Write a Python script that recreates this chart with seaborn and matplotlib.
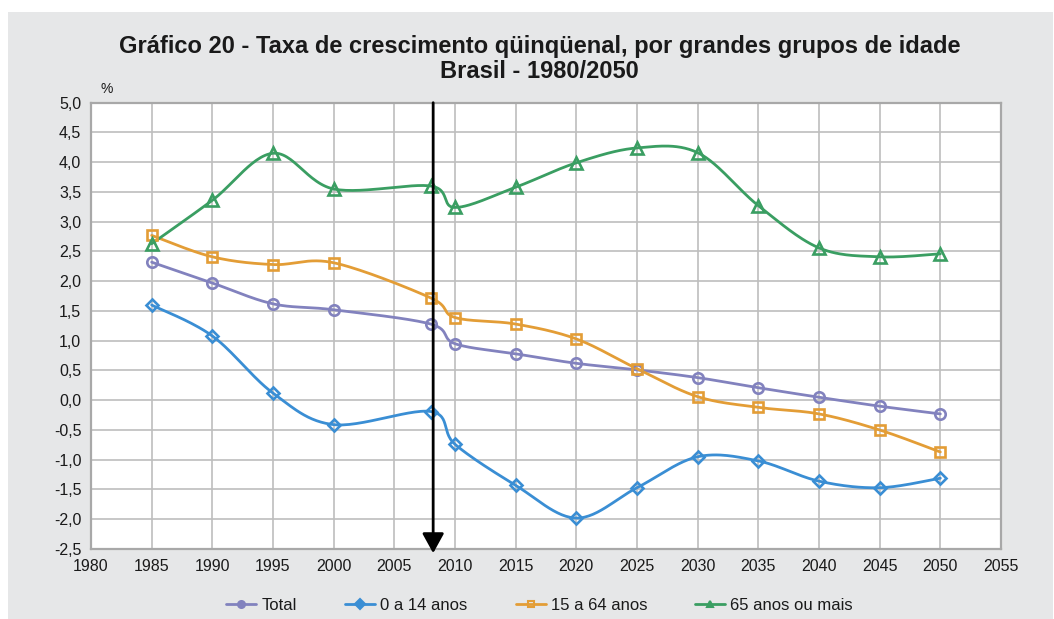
import numpy as np
import matplotlib
matplotlib.use("Agg")
import matplotlib.pyplot as plt
import seaborn as sns
from matplotlib.lines import Line2D
from matplotlib.patches import Rectangle

# dados
anos = [1985, 1990, 1995, 2000, 2008, 2010, 2015, 2020, 2025, 2030, 2035, 2040, 2045, 2050]
total = [2.32, 1.97, 1.62, 1.52, 1.28, 0.95, 0.78, 0.62, 0.51, 0.38, 0.21, 0.05, -0.10, -0.23]
jovens = [1.60, 1.08, 0.12, -0.41, -0.19, -0.74, -1.43, -1.98, -1.47, -0.95, -1.02, -1.36, -1.47, -1.31]
adultos = [2.77, 2.41, 2.28, 2.31, 1.72, 1.39, 1.28, 1.03, 0.53, 0.06, -0.12, -0.23, -0.50, -0.87]
idosos = [2.63, 3.36, 4.15, 3.55, 3.60, 3.24, 3.58, 3.99, 4.24, 4.16, 3.27, 2.56, 2.41, 2.46]

series = ["Total", "0 a 14 anos", "15 a 64 anos", "65 anos ou mais"]
cores = ["#8282BE", "#3A8ED4", "#E39D36", "#3A9E62"]
marcadores = ["o", "D", "s", "^"]
tam_marc = [7.5, 6, 7.5, 8]

x_ticks = list(range(1980, 2060, 5))
y_ticks = [-2.5, -2.0, -1.5, -1.0, -0.5, 0.0, 0.5, 1.0, 1.5, 2.0, 2.5, 3.0, 3.5, 4.0, 4.5, 5.0]
ano_seta = 2008.2


# suavizacao tipo Excel (bezier com controle P1 + (P2-P0)/6)
def suavizar(xs, ys, n=30):
    p = np.column_stack([xs, ys]).astype(float)
    pts = [p[0]]
    t = np.linspace(0, 1, n)[1:, None]
    for i in range(len(p) - 1):
        p0 = p[i - 1] if i > 0 else p[i]
        p1 = p[i]
        p2 = p[i + 1]
        p3 = p[i + 2] if i + 2 < len(p) else p[i + 1]
        c1 = p1 + (p2 - p0) / 6
        c2 = p2 - (p3 - p1) / 6
        seg = ((1 - t) ** 3) * p1 + 3 * ((1 - t) ** 2) * t * c1 + 3 * (1 - t) * t ** 2 * c2 + t ** 3 * p2
        pts.extend(seg)
    pts = np.array(pts)
    return pts[:, 0], pts[:, 1]


sns.set_theme(style="whitegrid")
plt.rcParams['font.family'] = ['Liberation Sans', 'DejaVu Sans']

fig = plt.figure(figsize=(10.54, 6.19), dpi=100)
fig.patch.set_facecolor("white")
fig.patches.append(Rectangle((8 / 1054, 0), 1 - 9 / 1054, 1 - 12 / 619, transform=fig.transFigure,
                             facecolor="#E6E7E8", edgecolor="none", zorder=-5))

ax = fig.add_axes([91 / 1054, 70 / 619, 910 / 1054, 446.3 / 619])
ax.set_zorder(2)
ax.set_facecolor("white")

for nome, ys, cor, mk, ms in zip(series, [total, jovens, adultos, idosos], cores, marcadores, tam_marc):
    sx, sy = suavizar(anos, ys)
    sns.lineplot(x=sx, y=sy, sort=False, estimator=None, color=cor, lw=2.0, ax=ax, zorder=3)
    ax.plot(anos, ys, linestyle="none", marker=mk, ms=ms, mfc="none", mec=cor, mew=1.9, zorder=4)

ax.annotate("", xy=(ano_seta, -2.57), xytext=(ano_seta, 5.0), annotation_clip=False,
            arrowprops=dict(arrowstyle="-|>,head_length=0.4,head_width=0.22", color="black",
                            lw=2.0, mutation_scale=30, shrinkA=0, shrinkB=0), zorder=6)

ax.set_xlim(1980, 2055)
ax.set_ylim(-2.5, 5.0)
ax.set_xticks(x_ticks)
ax.set_yticks(y_ticks)
ax.set_xticklabels([str(a) for a in x_ticks])
ax.set_yticklabels([f"{v:.1f}".replace(".", ",") for v in y_ticks])
ax.grid(True, color="#BEBEBE", lw=1.2)
for s in ax.spines.values():
    s.set_visible(True)
    s.set_color("#A8A8A8")
    s.set_linewidth(1.6)
ax.tick_params(axis="both", which="both", length=4, width=1, color="#A8A8A8",
               labelsize=11.5, labelcolor="#1a1a1a", pad=3)
ax.set_xlabel("")
ax.set_ylabel("")

fig.text(107 / 1054, 1 - 89 / 619, "%", fontsize=10, color="#1a1a1a", ha="center", va="center")

fig.text(0.512, 1 - 47 / 619, "Gráfico 20 - Taxa de crescimento qüinqüenal, por grandes grupos de idade",
         ha="center", va="center", fontsize=17, fontweight="bold", color="#1a1a1a")
fig.text(0.512, 1 - 72 / 619, "Brasil - 1980/2050",
         ha="center", va="center", fontsize=17, fontweight="bold", color="#1a1a1a")

# legenda: marcadores pequenos como no original
alcas = [Line2D([0], [0], color=c, lw=2.0, marker=m, ms=5, mfc=("none" if m == "s" else c), mec=c, mew=1.5)
         for c, m in zip(cores, marcadores)]
fig.legend(alcas, series, loc="center", bbox_to_anchor=(0.512, 0.0226), ncol=4, frameon=False,
           fontsize=12, handlelength=1.8, handletextpad=0.3, columnspacing=2.9, labelcolor="#1a1a1a")

fig.savefig("out.png", dpi=100, facecolor=fig.get_facecolor())
